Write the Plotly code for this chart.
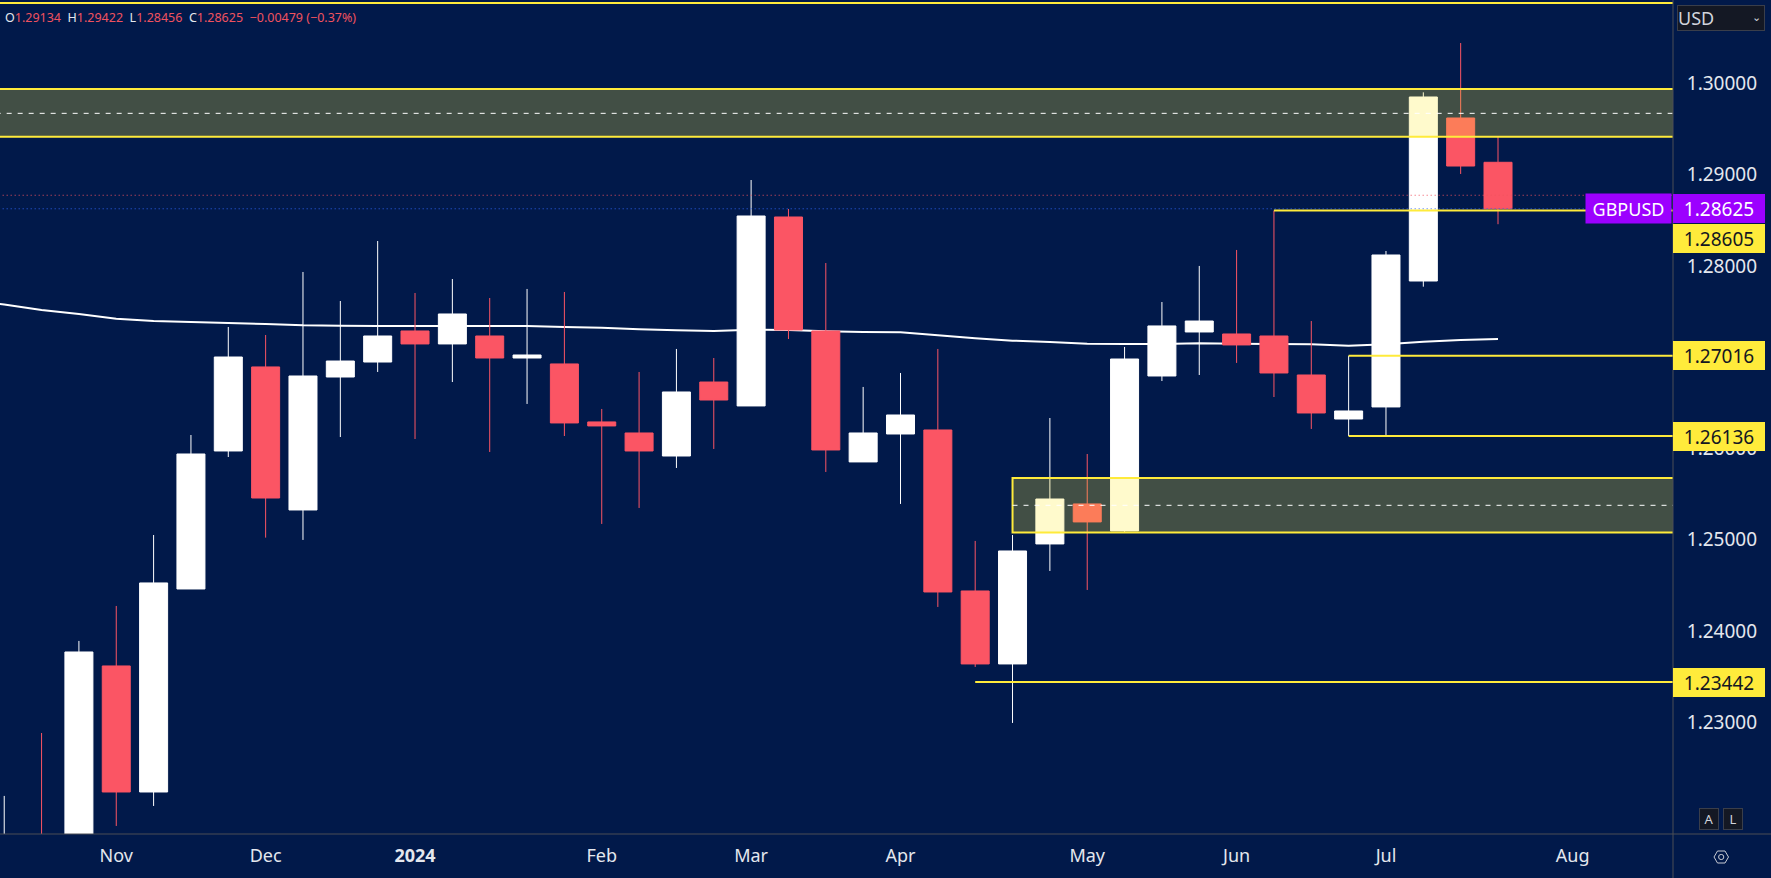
"""GBPUSD weekly candles with supply/demand zones and key levels."""
import pandas as pd
import plotly.graph_objects as go

# weekly bars, first bar is the week of 2023-10-16
first_week = "2023-10-16"
opens = [1.2135, 1.2170, 1.2120, 1.23619, 1.22239, 1.24462, 1.25973, 1.26893, 1.25327, 1.26783, 1.26947,
         1.27287, 1.27145, 1.27232, 1.26991, 1.26926, 1.26291, 1.26170, 1.25918, 1.26728, 1.26466,
         1.28535, 1.27287, 1.25853, 1.26159, 1.26203, 1.24440, 1.23641, 1.24955, 1.25393, 1.25097,
         1.26794, 1.27276, 1.27254, 1.27232, 1.26805, 1.26323, 1.26455, 1.27834, 1.29619, 1.29134]
highs = [1.22196, 1.22885, 1.23893, 1.24276, 1.25053, 1.26148, 1.27331, 1.27243, 1.27933, 1.27615, 1.28272,
         1.27703, 1.27856, 1.27648, 1.27747, 1.27714, 1.26433, 1.26838, 1.27090, 1.26991, 1.28940,
         1.28623, 1.28031, 1.26674, 1.26827, 1.27090, 1.24988, 1.25053, 1.26334, 1.25940, 1.27112,
         1.27604, 1.27999, 1.28174, 1.28605, 1.27396, 1.27016, 1.28163, 1.29900, 1.30440, 1.29422]
lows = [1.2090, 1.2070, 1.2095, 1.21867, 1.22086, 1.24462, 1.25907, 1.25024, 1.24999, 1.26126, 1.26838,
        1.26104, 1.26728, 1.25962, 1.26488, 1.26137, 1.25174, 1.25349, 1.25787, 1.25995, 1.26466,
        1.27199, 1.25743, 1.25853, 1.25393, 1.24265, 1.23608, 1.22995, 1.24659, 1.24451, 1.25086,
        1.26739, 1.26805, 1.26937, 1.26564, 1.26214, 1.26136, 1.26136, 1.27772, 1.29006, 1.28456]
closes = [1.2165, 1.2130, 1.23772, 1.22239, 1.24528, 1.25940, 1.27002, 1.25458, 1.26794, 1.26958, 1.27232,
          1.27145, 1.27473, 1.26991, 1.27024, 1.26280, 1.26247, 1.25973, 1.26619, 1.26531, 1.28546,
          1.27298, 1.25984, 1.26170, 1.26367, 1.24429, 1.23641, 1.24878, 1.25447, 1.25196, 1.26980,
          1.27342, 1.27396, 1.27134, 1.26827, 1.26389, 1.26411, 1.28119, 1.29849, 1.29093, 1.28625]

# moving average, starts one week before the first bar
ma_values = [1.27626, 1.27577, 1.27517, 1.27473, 1.27422, 1.27396, 1.27385, 1.27374, 1.27364, 1.27349, 1.27345,
             1.27342, 1.27342, 1.27342, 1.27342, 1.27342, 1.27331, 1.27323, 1.27305, 1.27295, 1.27287,
             1.27301, 1.27298, 1.27284, 1.27276, 1.27273, 1.27240, 1.27207, 1.27181, 1.27166, 1.27148,
             1.27145, 1.27145, 1.27152, 1.27148, 1.27145, 1.27141, 1.27126, 1.27141, 1.27170, 1.27188, 1.27199]

month_dates = ["2023-11-06", "2023-12-04", "2024-01-01", "2024-02-05", "2024-03-04",
               "2024-04-01", "2024-05-06", "2024-06-03", "2024-07-01", "2024-08-05"]
month_labels = ["Nov", "Dec", "<b>2024</b>", "Feb", "Mar", "Apr", "May", "Jun", "Jul", "Aug"]
price_ticks = [1.23, 1.24, 1.25, 1.26, 1.28, 1.29, 1.30]
price_labels = ["1.23000", "1.24000", "1.25000", "1.26000", "1.28000", "1.29000", "1.30000"]

top_line = 1.30878
upper_zone = [1.29414, 1.29670, 1.29937]  # bottom, middle, top
lower_zone = [1.25079, 1.25378, 1.25677]
lower_zone_start = "2024-04-22"
prev_close_level = 1.28773
last_close = 1.28625
# level, first week of the line
levels = [(1.28605, "2024-06-10"), (1.27016, "2024-06-24"), (1.26136, "2024-06-24"), (1.23442, "2024-04-15")]

BG = "#01194A"
RED = "#FB5564"
YELLOW = "#FFEB3B"
GREY = "#4C4E55"
TEXT = "#E4E7EE"
FONT = "Noto Sans"
WIDTH, HEIGHT, PLOT_W, PLOT_H = 1771, 878, 1673, 834

dates = pd.date_range(first_week, periods=len(opens), freq="7D")
ma_dates = pd.date_range(dates[0] - pd.Timedelta(days=7), periods=len(ma_values), freq="7D")
x_start = dates[0] - pd.Timedelta(hours=19)
x_end = dates[0] + pd.Timedelta(days=312.8)
far_left = x_start - pd.Timedelta(days=7)
far_right = x_end + pd.Timedelta(days=7)

fig = go.Figure(go.Candlestick(
    x=dates, open=opens, high=highs, low=lows, close=closes,
    whiskerwidth=0,
    increasing=dict(line=dict(color="#FFFFFF", width=1), fillcolor="#FFFFFF"),
    decreasing=dict(line=dict(color=RED, width=1), fillcolor=RED),
    showlegend=False,
))


def hline(y, x0=far_left, x1=far_right, color=YELLOW, width=2, dash="solid"):
    fig.add_shape(type="line", xref="x", yref="y", x0=x0, x1=x1, y0=y, y1=y,
                  line=dict(color=color, width=width, dash=dash))


# MA sits behind the candles
ma_path = "M " + " L ".join(f"{d:%Y-%m-%d},{v}" for d, v in zip(ma_dates, ma_values))
fig.add_shape(type="path", path=ma_path, xref="x", yref="y", layer="below",
              line=dict(color="#FFFFFF", width=2))

zone_fill = "rgba(255,235,59,0.26)"
fig.add_shape(type="rect", xref="x", yref="y", x0=far_left, x1=far_right,
              y0=upper_zone[0], y1=upper_zone[2], fillcolor=zone_fill, line=dict(color=YELLOW, width=2))
fig.add_shape(type="rect", xref="x", yref="y", x0=lower_zone_start, x1=far_right,
              y0=lower_zone[0], y1=lower_zone[2], fillcolor=zone_fill, line=dict(color=YELLOW, width=2))
hline(upper_zone[1], color="#FFFFFF", width=1, dash="5px,6px")
hline(lower_zone[1], x0=lower_zone_start, color="#FFFFFF", width=1, dash="5px,6px")
hline(top_line)
hline(prev_close_level, color="#F0525F", width=1, dash="1px,3px")
hline(last_close, color="#2F62F0", width=1, dash="1px,3px")
for level, start in levels:
    hline(level, x0=start)

# price scale and time scale separators
fig.add_shape(type="line", xref="paper", yref="paper", x0=1, x1=1, y0=(PLOT_H - HEIGHT) / PLOT_H, y1=1,
              line=dict(color=GREY, width=1))
fig.add_shape(type="line", xref="paper", yref="paper", x0=0, x1=WIDTH / PLOT_W, y0=0, y1=0,
              line=dict(color=GREY, width=1))


def to_paper(px, py):
    return px / PLOT_W, 1 - py / PLOT_H


# settings icon under the price scale
hexagon = [(1714, 857), (1717.5, 851), (1725, 851), (1728.5, 857), (1725, 863), (1717.5, 863)]
hex_path = "M " + " L ".join("{},{}".format(*to_paper(*p)) for p in hexagon) + " Z"
fig.add_shape(type="path", path=hex_path, xref="paper", yref="paper", line=dict(color="#C8CBD3", width=1))
cx0, cy0 = to_paper(1718.6, 854.4)
cx1, cy1 = to_paper(1723.8, 859.6)
fig.add_shape(type="circle", xref="paper", yref="paper", x0=cx0, x1=cx1, y0=cy0, y1=cy1,
              line=dict(color="#C8CBD3", width=1))


def price_label(y, text, bg, color, yshift=0):
    fig.add_annotation(xref="paper", yref="y", x=1, y=y, xanchor="left", yanchor="middle", yshift=yshift,
                       text=text, showarrow=False, width=92, height=29, bgcolor=bg, borderpad=0, borderwidth=0,
                       align="center", valign="middle", font=dict(family=FONT, size=19, color=color))


price_label(1.28605, "1.28605", YELLOW, "#131722", yshift=-28)
for level in (1.27016, 1.26136, 1.23442):
    price_label(level, f"{level:.5f}", YELLOW, "#131722")
price_label(last_close, f"{last_close:.5f}", "#9C00FF", "#FFFFFF")
fig.add_annotation(xref="paper", yref="y", x=1, y=last_close, xanchor="right", yanchor="middle", xshift=-1,
                   text="GBPUSD", showarrow=False, width=85, height=29, bgcolor="#9C00FF", borderpad=0,
                   align="center", valign="middle", font=dict(family=FONT, size=18, color="#FFFFFF"))


def button(px, py, w, h, text, size, align="center"):
    fx, fy = to_paper(px, py)
    fig.add_annotation(xref="paper", yref="paper", x=fx, y=fy, xanchor="left", yanchor="top",
                       text=text, showarrow=False, width=w, height=h, bgcolor="#141824", bordercolor="#3A3E4A",
                       borderwidth=1, borderpad=0, align=align, valign="middle",
                       font=dict(family=FONT, size=size, color="#D1D4DC"))


button(1677, 5, 86, 24, "USD", 18, align="left")
button(1699, 808, 18, 20, "A", 13)
button(1723, 808, 18, 20, "L", 13)
fx, fy = to_paper(1757, 18)
fig.add_annotation(xref="paper", yref="paper", x=fx, y=fy, xanchor="center", yanchor="middle", text="⌄",
                   showarrow=False, font=dict(family="DejaVu Sans", size=11, color="#D1D4DC"))

# OHLC header
val = '<span style="color:#F0525F">{}</span>'
header = ("O" + val.format("1.29134") + "  H" + val.format("1.29422") + "  L" + val.format("1.28456")
          + "  C" + val.format("1.28625") + "  " + val.format("−0.00479 (−0.37%)"))
fx, fy = to_paper(3, 18)
fig.add_annotation(xref="paper", yref="paper", x=fx, y=fy, xanchor="left", yanchor="middle", text=header,
                   showarrow=False, align="left", font=dict(family=FONT, size=12.5, color=TEXT))

fig.update_layout(
    width=WIDTH, height=HEIGHT,
    margin=dict(l=0, r=WIDTH - PLOT_W, t=0, b=HEIGHT - PLOT_H),
    paper_bgcolor=BG, plot_bgcolor=BG,
    boxgap=0.25, boxgroupgap=0,
    showlegend=False,
    font=dict(family=FONT, size=18, color=TEXT),
    xaxis=dict(type="date", range=[x_start, x_end], rangeslider=dict(visible=False), showgrid=False, zeroline=False,
               tickmode="array", tickvals=month_dates, ticktext=month_labels,
               ticks="outside", ticklen=5, tickcolor=BG),
    yaxis=dict(side="right", range=[1.21779, 1.30911], showgrid=False, zeroline=False,
               tickmode="array", tickvals=price_ticks, ticktext=price_labels, tickfont=dict(size=19),
               ticks="outside", ticklen=9, tickcolor=BG),
)

# default page has an 8px body margin
fig.write_html("out.html", config={"displayModeBar": False}, post_script="document.body.style.margin = '0';")
